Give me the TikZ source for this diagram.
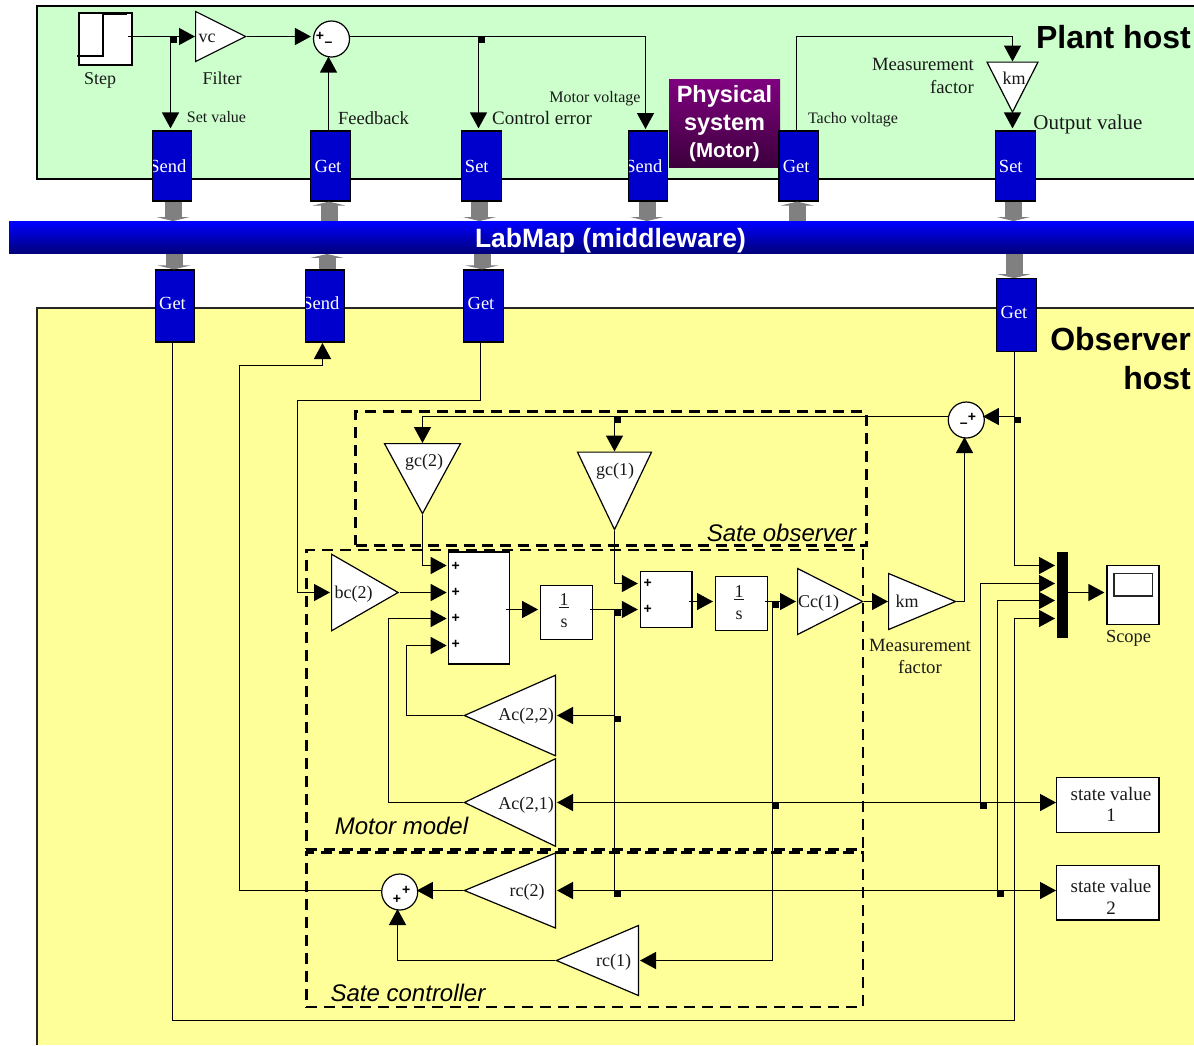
\documentclass[tikz,border=0pt]{standalone}
\usepackage{fontspec}
\setmainfont{Liberation Serif}
\newfontfamily\armfont{Liberation Sans}
\usetikzlibrary{arrows.meta,shapes.geometric,calc}
\definecolor{plantgreen}{HTML}{CCFFCC}
\definecolor{obsyellow}{HTML}{FFFF99}
\definecolor{blockblue}{HTML}{0000CC}
\definecolor{linkgray}{HTML}{808080}
\definecolor{barblue}{HTML}{0000FF}
\definecolor{barnavy}{HTML}{000078}
\definecolor{physpurple}{HTML}{800080}
\definecolor{physdark}{HTML}{3C003C}
\newcommand{\pxfont}[1]{\fontsize{#1}{#1}\selectfont}
\tikzset{
  blockbox/.style={draw=black,fill=blockblue,line width=1.2pt,inner sep=0pt,minimum width=39.5pt},
  blocktext/.style={text=white,inner sep=0pt,font=\pxfont{18.5}},
  hostlink/.style={-{Triangle[length=4pt,width=33pt,sep=0pt]},draw=linkgray,line width=17pt},
  sumnode/.style={circle,draw=black,fill=white,line width=1.2pt,inner sep=0pt,minimum size=36pt},
  gaintri/.style={isosceles triangle,isosceles triangle stretches,draw=black,fill=white,line width=1.2pt,inner sep=0pt,anchor=lower side},
  plainbox/.style={draw=black,fill=white,line width=1.2pt,inner sep=0pt,align=center},
  txt/.style={inner sep=0pt,align=center,text=black!90},
  signtxt/.style={inner sep=0pt,font=\armfont\bfseries\pxfont{14}},
  dashbox/.style={draw=black,line width=2.6pt,dash pattern=on 11pt off 7pt,inner sep=0pt},
  sig/.style={-{Triangle[length=16pt,width=17pt,sep=0pt]},draw=black,line width=1.4pt},
  wire/.style={draw=black,line width=1.4pt},
  gap/.style={shorten >=2pt},
  juncdot/.style={fill=black,inner sep=0pt,minimum size=6.5pt,anchor=north west},
  hosttitle/.style={inner sep=0pt,align=right,font=\armfont\bfseries\pxfont{32}},
  grouptxt/.style={inner sep=0pt,font=\armfont\itshape\pxfont{24}},
}
\begin{document}
\begin{tikzpicture}[x=1pt,y=-1pt]
  \useasboundingbox (0,0) rectangle (1194,1045);
  \fill[white] (0,0) rectangle (1194,1045);
  \fill[plantgreen] (37,6) rectangle (1194,179);
  \draw[line width=1.6pt] (1194,6) -- (37,6) -- (37,179) -- (1194,179);
  \fill[obsyellow] (37,308) rectangle (1194,1045);
  \draw[line width=1.6pt,draw=black!85] (1194,308) -- (37,308) -- (37,1045);
  \node[inner sep=0pt,minimum width=111pt,minimum height=88pt,top color=physpurple,bottom color=physdark] (physical) at (724.5,123) {};
  \node[inner sep=0pt,text=white,align=center,font=\armfont\bfseries\pxfont{23.5}] (physicaltxt) at (724.5,123.5)
    {Physical\\[5pt]system\\[3pt]{\pxfont{20.5}(Motor)}};
  \node[inner sep=0pt,minimum width=1185pt,minimum height=32.5pt,top color=barblue,bottom color=barnavy] (labmap) at (601.5,237.5) {};
  \node[inner sep=0pt,text=white,font=\armfont\bfseries\pxfont{26.5}] (labmaptxt) at (610.5,240.5) {LabMap (middleware)};
  \foreach \n/\x/\y/\h/\dx/\dy/\t in {send1/172/166/70/-4.2/0/Send,get1/330.5/166/70/-2.5/0/Get,set1/481.5/166/70/-4.7/0/Set,send2/648/166/70/-4.2/0/Send,get2/798.7/166/70/-2.5/0/Get,set2/1015.5/166/70/-4.7/0/Set,get3/175/306/72/-2.5/3/Get,send3/325/306/72/-4.2/3/Send,get4/483.5/306/72/-2.5/3/Get,get5/1016.5/315/72.5/-2.5/3/Get}{
    \node[blockbox,minimum height=\h pt,path picture={\node[blocktext] (\n txt) at ([xshift=\dx pt,yshift=\dy pt]path picture bounding box.center) {\t};}] (\n) at (\x,\y) {};}
  \foreach \a/\dx in {send1/1,set1/-2,send2/-1,set2/-2}{
    \draw[hostlink] ([xshift=\dx pt]\a.south) -- ([xshift=\dx pt]\a.south |- labmap.north);}
  \foreach \a/\dx in {get3/-1,get4/-1.5,get5/-2.5}{
    \draw[hostlink] ([xshift=\dx pt]labmap.south -| \a.north) -- ([xshift=\dx pt]\a.north);}
  \foreach \a/\dx in {get1/-1.5,get2/-1.5}{
    \draw[hostlink] ([xshift=\dx pt]labmap.north -| \a.south) -- ([xshift=\dx pt]\a.south);}
  \draw[hostlink] ([xshift=2pt]send3.north) -- ([xshift=2pt]send3.north |- labmap.south);
  \node[plainbox,minimum width=53pt,minimum height=52pt] (stepbox) at (105.5,39) {};
  \draw[wire] (77,56) -- (103,56) -- (103,14) -- (127,14);
  \foreach \n/\x/\y/\r in {sumplant/331.5/39,sumobs/966.3/420,sumctrl/399.7/892}{
    \node[sumnode] (\n) at (\x,\y) {};}
  \foreach \n/\x/\y/\l/\w/\r/\t/\tx/\ty in {
    vcgain/195/36.5/50/50/0/vc/207/38,
    kmtop/1012.5/61.5/50/51/270/km/1014/78,
    gctwo/422.5/443/70/76/270/gc(2)/424/462,
    gcone/614.5/451.5/77.5/74/270/gc(1)/615/471,
    bctwo/331/592.5/66.5/76.5/0/bc(2)/353.5/594,
    ccone/797/601.5/65/66/0/Cc(1)/818.5/603,
    kmlow/888/601.5/67/56/0/km/907/601,
    actt/556/715.5/91/80.5/180/{Ac(2,2)}/526/716,
    acto/556/802.5/91/87.5/180/{Ac(2,1)}/526/805,
    rctwo/556/890.5/91/75/180/rc(2)/527/892,
    rcone/639/960.5/82/70/180/rc(1)/613.5/962}{
    \node[gaintri,shape border rotate=\r,minimum width=\w pt,minimum height=\l pt] (\n) at (\x,\y) {};
    \node[txt,font=\pxfont{18}] (\n txt) at (\tx,\ty) {\t};}
  \foreach \n/\x/\y/\w/\h in {sumfour/479/608/60.5/112,sumtwo/666.2/599.5/51.5/55.6}{
    \node[plainbox,minimum width=\w pt,minimum height=\h pt] (\n) at (\x,\y) {};}
  \foreach \n/\x/\y/\w/\h in {intone/566.5/612.5/51.6/53.6,inttwo/741.6/603.7/52/54}{
    \node[plainbox,minimum width=\w pt,minimum height=\h pt] (\n) at (\x,\y) {};
    \node[txt,font=\pxfont{18}] (\n txt) at (\x-2.5,\y-1.5) {\makebox[0pt]{\hspace*{9pt}\rule[-2.5pt]{10pt}{0.9pt}}1\\[4pt]s};}
  \node[fill=black,inner sep=0pt,minimum width=11pt,minimum height=86.5pt] (muxbar) at (1062.2,595) {};
  \node[plainbox,minimum width=52pt,minimum height=58.5pt] (scope) at (1133,595) {};
  \node[draw=black!85,line width=1.2pt,inner sep=0pt,minimum width=38.7pt,minimum height=22.7pt] (scopescreen) at (1133.3,584.7) {};
  \node[plainbox,minimum width=102.3pt,minimum height=54.6pt] (stateone) at (1107.8,805) {};
  \node[txt,font=\pxfont{19}] (stateonetxt) at (1111,804) {state value\\[2pt]1};
  \node[plainbox,minimum width=102.3pt,minimum height=54.6pt] (statetwo) at (1107.8,892.7) {};
  \node[txt,font=\pxfont{19}] (statetwotxt) at (1111,897) {state value\\[3pt]2};
  \foreach \n/\x/\y/\t in {a/320/36/+,b/328.4/44.7/–,c/972/417.3/+,d/963.7/425.7/–,e/406.3/890/+,f/397/899/+,g/455.7/566/+,h/455.7/592.3/+,i/455.7/618.3/+,j/455.7/644.7/+,k/647.8/583.7/+,l/647.8/609.7/+}{
    \node[signtxt] (sign\n) at (\x,\y) {\t};}
  \foreach \n/\x/\y/\s/\t in {stepl/100/80/18/Step,filterl/222/78/18/Filter,setvall/216.5/117/16/Set value,feedl/373.5/118/18.5/Feedback,errorl/542/118/19/Control error,motorl/595/99/16/Motor voltage,tachol/853/120/16/Tacho voltage,outputl/1088/124/21/Output value,scopel/1128.5/638/18.4/Scope}{
    \node[txt,font=\pxfont{\s}] (\n) at (\x,\y) {\t};}
  \node[txt,align=right,font=\pxfont{18.7},anchor=east] (facttop) at (974,76) {Measurement\\[4pt]factor};
  \node[txt,font=\pxfont{18.7}] (factlow) at (920,656.5) {Measurement\\[4pt]factor};
  \node[hosttitle,anchor=east] (planttitle) at (1191,37) {Plant host};
  \node[hosttitle,anchor=north east] (obstitle) at (1191,327) {Observer\\[7pt]host};
  \node[dashbox,minimum width=510.5pt,minimum height=133.6pt] (obsbox) at (611,478.5) {};
  \node[dashbox,minimum width=556.5pt,minimum height=299.3pt] (motorbox) at (584.7,699.7) {};
  \node[dashbox,minimum width=556.5pt,minimum height=154.7pt] (ctrlbox) at (584.7,929.7) {};
  \node[grouptxt] (obsl) at (781.5,532.7) {Sate observer};
  \node[grouptxt] (motorl2) at (401.5,825.7) {Motor model};
  \node[grouptxt] (ctrll) at (408,993) {Sate controller};
  \foreach \n/\x/\y in {jstep/170.5/36.5,jerr/478.5/36.5,jgc/614.5/416.5,jget/1014.5/416.5,jintone/614.5/609.5,jacone/614.5/715.5,jrc/614.5/890.5,jinttwo/772.5/601.5,jacoo/772.5/802.5,jsvone/980.5/802.5,jsvtwo/997.5/890.5}{
    \coordinate (\n) at (\x,\y);
    \node[juncdot] (\n dot) at (\x-0.5,\y) {};}
  \coordinate (stepout) at (128,36.5);
  \draw[sig] (stepout) -- (vcgain.lower side);
  \draw[sig,gap] (jstep) -- (jstep |- send1.north);
  \draw[sig] (vcgain.apex) -- ($(sumplant.west |- vcgain.apex)+(-2,0)$);
  \draw[sig] ([xshift=-2pt]get1.north) -- ($([xshift=-2pt]get1.north |- sumplant.south)+(0,-1)$);
  \draw[wire] (sumplant.east |- stepout) -- (jerr);
  \draw[sig,gap] (jerr) -- (jerr |- set1.north);
  \draw[sig,gap] (jerr) -- (645.5,36.5) -- (645.5,131);
  \draw[sig] ([xshift=-2.2pt]get2.north) -- ([xshift=-2.2pt]get2.north |- stepout) -| (kmtop.lower side);
  \draw[sig,gap] (kmtop.apex) -- (kmtop.apex |- set2.north);
  \coordinate (gridbot) at (1014.5,1020.5);
  \draw[sig] ([xshift=-2.5pt]get3.south) -- ([xshift=-2.5pt]get3.south |- gridbot) -- (gridbot) -- (1014.5,618.5) -- ($(muxbar.west |- 0,618.5)+(-1.5,0)$);
  \draw[sig] ([xshift=-2pt]get5.south) -- (1014.5,565.5) -- ($(muxbar.west |- 0,565.5)+(-1.5,0)$);
  \draw[sig] (jget) -- ($(sumobs.east |- jget)+(-2,0)$);
  \draw[wire] (sumobs.west |- jget) -- (jgc);
  \draw[sig] (jgc) -- (gctwo.lower side |- jgc) -- (gctwo.lower side);
  \draw[sig] (jgc) -- (gcone.lower side);
  \draw[sig] (kmlow.apex) -- (964.5,601.5) -- (964.5,437);
  \draw[sig] (ccone.apex) -- (kmlow.lower side);
  \draw[sig] ($(inttwo.east)+(-3,-2.2)$) -- ($(ccone.lower side)+(-1,0)$);
  \draw[wire] (jinttwo) -- (jacoo);
  \draw[sig] (jacoo) -- (772.5,960.5) -- ($(rcone.lower side)+(1,0)$);
  \draw[sig] (jsvone) -- (stateone.west |- jsvone);
  \draw[sig] (jsvone) -- ($(acto.lower side)+(1,0)$);
  \draw[sig] ($(sumfour.east)+(-4,1.5)$) -- ($(intone.west)+(-2,-3)$);
  \draw[sig] ($(intone.east)+(-3,-3)$) -- (jintone) -- ($(jintone -| sumtwo.west)+(-2,0)$);
  \draw[wire] (jintone) -- (jrc);
  \draw[sig] (jacone) -- ($(actt.lower side)+(1,0)$);
  \draw[sig] (jrc) -- ($(rctwo.lower side)+(1,0)$);
  \draw[sig] (jsvtwo) -- (statetwo.west |- jsvtwo);
  \draw[wire] (jrc) -- (jsvtwo);
  \draw[sig] (jsvone) -- (980.5,583.5) -- ($(muxbar.west |- 0,583.5)+(-1.5,0)$);
  \draw[sig] (jsvtwo) -- (997.5,600.5) -- ($(muxbar.west |- 0,600.5)+(-1.5,0)$);
  \draw[sig] (muxbar.east |- 0,592.5) -- ($(scope.west |- 0,592.5)+(-2,0)$);
  \draw[sig] (gctwo.apex) -- (422.5,565.5) -- ($(sumfour.west |- 0,565.5)+(-1.5,0)$);
  \draw[sig] (gcone.apex) -- (614.5,583.5) -- ($(sumtwo.west |- 0,583.5)+(-2,0)$);
  \draw[sig] (bctwo.apex) -- ($(sumfour.west |- bctwo.apex)+(-1.5,0)$);
  \draw[sig] ([xshift=-3pt]get4.south) -- ([xshift=-3pt]get4.south |- 0,400.5) -- (297.5,400.5) -- (297.5,592.5) -- ($(bctwo.lower side)+(-1,0)$);
  \draw[sig] (acto.apex) -- (388.5,802.5) -- (388.5,618.5) -- ($(sumfour.west |- 0,618.5)+(-1.5,0)$);
  \draw[sig] (actt.apex) -- (406.5,715.5) -- (406.5,645.5) -- ($(sumfour.west |- 0,645.5)+(-1.5,0)$);
  \draw[sig] ($(sumtwo.east)+(-4,2)$) -- ($(inttwo.west)+(-2,-2.2)$);
  \draw[sig] (rctwo.apex) -- ($(sumctrl.east |- rctwo.apex)+(-1.5,0)$);
  \draw[sig] (sumctrl.west |- rctwo.apex) -- (239.5,890.5) -- (239.5,365.5) -- (322.5,365.5) -- (322.5,343);
  \draw[sig] (rcone.apex) -- (397.5,960.5) -- (397.5,909);
\end{tikzpicture}
\end{document}
